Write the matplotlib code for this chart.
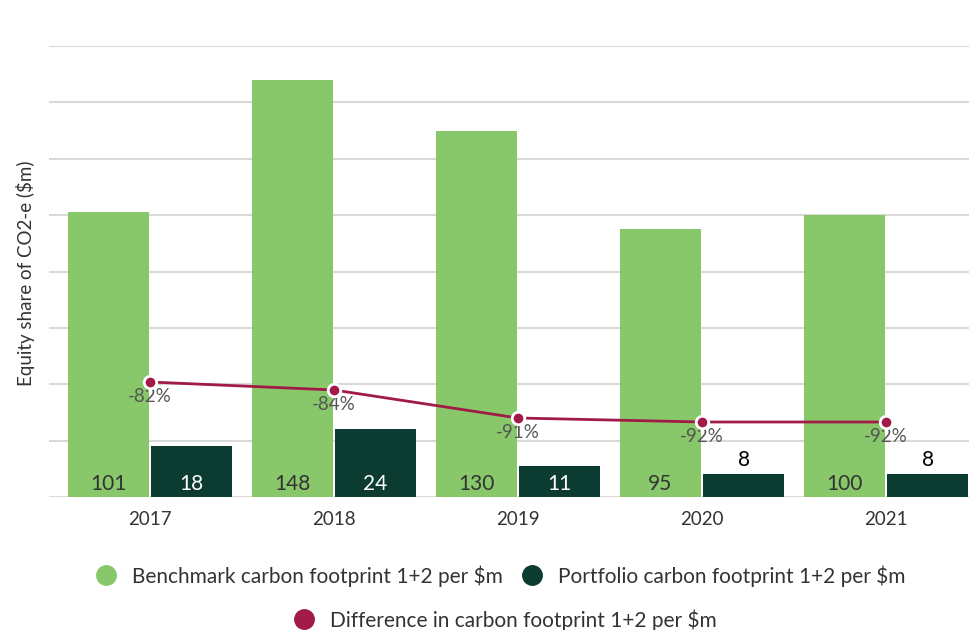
import matplotlib
matplotlib.use("Agg")
import matplotlib.pyplot as plt
from matplotlib.lines import Line2D
import numpy as np

years = ["2017", "2018", "2019", "2020", "2021"]
benchmark = [101, 148, 130, 95, 100]
portfolio = [18, 24, 11, 8, 8]
difference = [-82, -84, -91, -92, -92]

C_BENCH = "#88C86A"
C_PORT = "#0B3B31"
C_DIFF = "#A11A48"
C_GRID = "#D9D9D9"
C_TEXT = "#333333"

plt.rcParams['font.family'] = ['Lato', 'DejaVu Sans']

fig = plt.figure(figsize=(9.7, 6.3), dpi=100)
ax = fig.add_axes([49/970, (630-497)/630, 1 - 49/970, (497-46)/630])

x = np.arange(len(years))
w = 0.44
gap = 0.006
b1 = ax.bar(x - w/2 - gap, benchmark, width=w, color=C_BENCH, zorder=2)
b2 = ax.bar(x + w/2 + gap, portfolio, width=w, color=C_PORT, zorder=2)

ax.set_ylim(0, 160)
ax.set_xlim((49-150)/184, (970-150)/184)
ax.set_yticks(np.arange(0, 161, 20))
ax.set_yticklabels([])
ax.tick_params(axis='y', length=0)
ax.tick_params(axis='x', length=0, labelsize=13.5, labelcolor=C_TEXT, pad=10)
ax.set_xticks(x)
ax.set_xticklabels(years)
ax.grid(axis='y', color=C_GRID, linewidth=1.5, zorder=0)
for s in ax.spines.values():
    s.set_visible(False)
ax.set_ylabel("Equity share of CO2-e ($m)", fontsize=13.5, color=C_TEXT)
ax.yaxis.set_label_coords((35 - 49) / 921, (497 - 273) / 451)

# bar labels
for xi, v in zip(x, benchmark):
    ax.annotate(str(v), (xi - w/2 - gap, 0), xytext=(0, 2), textcoords='offset points',
                ha='center', va='bottom', fontsize=15, color=C_TEXT, zorder=5)
for xi, v in zip(x, portfolio):
    if v >= 10:
        ax.annotate(str(v), (xi + w/2 + gap, 0), xytext=(0, 2), textcoords='offset points',
                    ha='center', va='bottom', fontsize=15, color='white', zorder=5)
    else:
        ax.annotate(str(v), (xi + w/2 + gap, v), xytext=(0, 3), textcoords='offset points',
                    ha='center', va='bottom', fontsize=15, color='black', zorder=5)

# difference line on secondary axis
ax2 = ax.twinx()
ax2.set_ylim(-110.75, 2)
ax2.set_xlim(ax.get_xlim())
ax2.axis('off')
ax2.plot(x, difference, color=C_DIFF, linewidth=2, marker='o', markersize=9,
         markerfacecolor=C_DIFF, markeredgecolor='white', markeredgewidth=2, zorder=4)
for xi, v in zip(x, difference):
    ax2.annotate(f"{v}%", (xi, v), xytext=(0, -4), textcoords='offset points',
                 ha='center', va='top', fontsize=13.5, color='#555555')

# legends
h1 = [Line2D([], [], marker='o', linestyle='none', markersize=14, color=C_BENCH),
      Line2D([], [], marker='o', linestyle='none', markersize=14, color=C_PORT)]
leg1 = fig.legend(h1, ["Benchmark carbon footprint 1+2 per $m", "Portfolio carbon footprint 1+2 per $m"],
                  loc='center', bbox_to_anchor=(495/970, 1 - 576/630), ncol=2, frameon=False,
                  fontsize=15, handletextpad=0.25, columnspacing=0.4, labelcolor=C_TEXT)
h2 = [Line2D([], [], marker='o', linestyle='none', markersize=14, color=C_DIFF)]
leg2 = fig.legend(h2, ["Difference in carbon footprint 1+2 per $m"],
                  loc='center', bbox_to_anchor=(500/970, 1 - 620/630), frameon=False,
                  fontsize=15, handletextpad=0.25, labelcolor=C_TEXT)

fig.savefig("out.png", dpi=100)
